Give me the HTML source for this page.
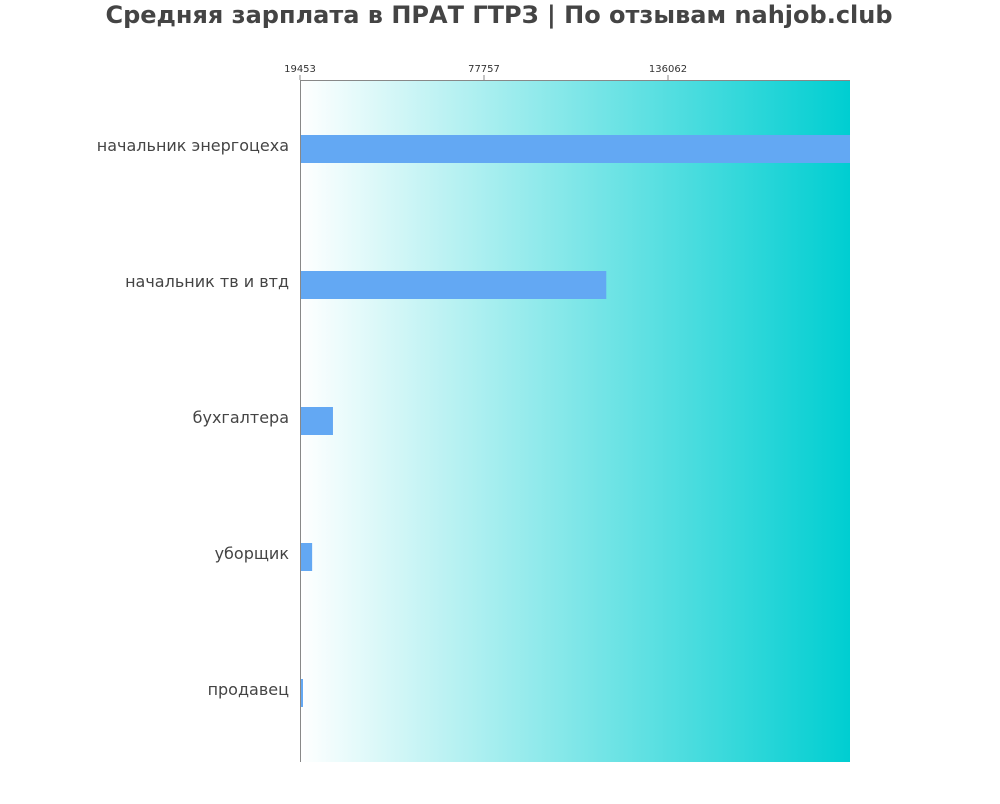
<!DOCTYPE html>
<html><head><meta charset="utf-8"><style>
body{margin:0;background:#fff;width:1000px;height:800px;overflow:hidden;font-family:"DejaVu Sans","Liberation Sans",sans-serif;}
</style></head><body>
<svg id="chart" width="1000" height="800">
<defs><linearGradient id="bg" x1="0" x2="1" y1="0" y2="0"><stop offset="0" stop-color="#ffffff"/><stop offset="1" stop-color="#00ced1"/></linearGradient></defs>
<text x="499" y="23" text-anchor="middle" font-size="24" font-weight="bold" fill="#444">Средняя зарплата в ПРАТ ГТРЗ | По отзывам nahjob.club</text>
<rect x="300" y="80" width="550" height="682" fill="url(#bg)"/>
<g id="ticks"></g><g id="bars"></g><g id="labels"></g>
<line x1="300.5" y1="80" x2="300.5" y2="762" stroke="#888"/>
<line x1="300" y1="80.5" x2="850" y2="80.5" stroke="#888"/>
</svg>
<script>
const categories=["начальник энергоцеха","начальник тв и втд","бухгалтера","уборщик","продавец"];
const values=[194000,116500,29900,23300,20400];
const tickValues=[19453,77757,136062];
const x0=300,pxPerUnit=(668-300)/(136062-19453);
function xs(v){return x0+(v-19453)*pxPerUnit;}
const NS="http://www.w3.org/2000/svg";
const tg=document.getElementById('ticks'),bg=document.getElementById('bars'),lg=document.getElementById('labels');
tickValues.forEach(v=>{
 const l=document.createElementNS(NS,'line');
 l.setAttribute('x1',xs(v));l.setAttribute('x2',xs(v));l.setAttribute('y1',75);l.setAttribute('y2',80);l.setAttribute('stroke','#888');
 
 
 tg.appendChild(l);
 const t=document.createElementNS(NS,'text');
 t.setAttribute('x',xs(v));t.setAttribute('y',72);t.setAttribute('text-anchor','middle');t.setAttribute('font-size','10');t.setAttribute('fill','#333');
 t.textContent=v;
 
 
 tg.appendChild(t);
});
categories.forEach((c,i)=>{
 const cy=149+i*136;
 const r=document.createElementNS(NS,'rect');
 r.setAttribute('x',300);r.setAttribute('y',cy-14);r.setAttribute('height',28);
 r.setAttribute('width',Math.min(550,Math.max(0,xs(values[i])-300)));r.setAttribute('fill','#63a8f3');
 
 
 bg.appendChild(r);
 const t=document.createElementNS(NS,'text');
 t.setAttribute('x',289);t.setAttribute('y',cy+2);t.setAttribute('text-anchor','end');t.setAttribute('font-size','16');t.setAttribute('fill','#444');
 t.textContent=c;
 
 
 lg.appendChild(t);
});
</script>
</body></html>
